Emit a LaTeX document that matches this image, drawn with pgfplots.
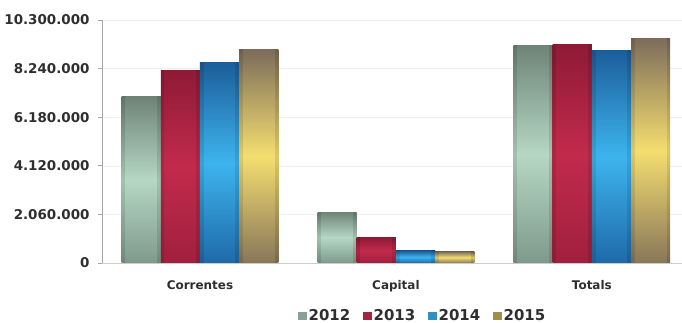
\documentclass[border=0pt]{standalone}
\usepackage{pgfplots}
\usepackage{pgfplotstable}
\pgfplotsset{compat=1.18}
\usepackage{fontspec}
\setmainfont{DejaVu Sans}
% 2012 green
\definecolor{gT}{HTML}{6E8477}\definecolor{gM}{HTML}{B5D7C3}\definecolor{gB}{HTML}{7F9A8B}
% 2013 red
\definecolor{rT}{HTML}{8E1A36}\definecolor{rM}{HTML}{C22A4C}\definecolor{rB}{HTML}{A0203E}
% 2014 blue
\definecolor{bT}{HTML}{1C5E9A}\definecolor{bM}{HTML}{3DB4EE}\definecolor{bB}{HTML}{1E6AA8}
% 2015 gold
\definecolor{yT}{HTML}{7C6C5A}\definecolor{yM}{HTML}{F4DE70}\definecolor{yB}{HTML}{887658}

\pgfplotstableread{
x y
0 7.04
1 2.16
2 9.21
}\tA
\pgfplotstableread{
x y
0 8.18
1 1.07
2 9.25
}\tB
\pgfplotstableread{
x y
0 8.49
1 0.51
2 8.99
}\tC
\pgfplotstableread{
x y
0 9.06
1 0.48
2 9.53
}\tD

\pgfplotsset{
  outerbar/.style n args={3}{top color=#1!88!black, bottom color=#3!88!black, middle color=#2!90!black},
  innerbar/.style n args={3}{top color=#1, bottom color=#3, middle color=#2},
  sq/.style={legend image code/.code={\fill[#1] (0bp,-3.5bp) rectangle (7.5bp,4bp);}},
}
% one series: table, bar shift, top, middle, bottom colour
\newcommand\series[5]{%
\addplot[forget plot, draw=none, bar shift=#2, bar width=0.2, outerbar={#3}{#4}{#5}, restrict x to domain=-0.1:0.1] table[x=x,y=y]{#1};
\addplot[forget plot, draw=none, bar shift=#2, bar width=0.16, innerbar={#3}{#4}{#5}, restrict x to domain=-0.1:0.1] table[x=x,y=y]{#1};
\addplot[forget plot, draw=none, bar shift=#2, bar width=0.2, outerbar={#3}{#4}{#5}, restrict x to domain=0.9:1.1] table[x=x,y=y]{#1};
\addplot[forget plot, draw=none, bar shift=#2, bar width=0.16, innerbar={#3}{#4}{#5}, restrict x to domain=0.9:1.1] table[x=x,y=y]{#1};
\addplot[forget plot, draw=none, bar shift=#2, bar width=0.2, outerbar={#3}{#4}{#5}, restrict x to domain=1.9:2.1] table[x=x,y=y]{#1};
\addplot[forget plot, draw=none, bar shift=#2, bar width=0.16, innerbar={#3}{#4}{#5}, restrict x to domain=1.9:2.1] table[x=x,y=y]{#1};
}

\begin{document}
\begin{tikzpicture}
\useasboundingbox (0,0) rectangle (682bp,323bp);
\begin{axis}[
  at={(102bp,60bp)}, anchor=south west,
  scale only axis, width=580bp, height=243bp,
  xmin=-0.5, xmax=2.46, ymin=0, ymax=10.3,
  axis x line*=bottom, axis y line*=left,
  axis line style={gray!70, line width=0.8pt},
  x axis line style={gray!40},
  xtick={0,1,2}, xticklabels={Correntes,Capital,Totals},
  xtick style={draw=none},
  ytick={0,2.06,4.12,6.18,8.24,10.3},
  yticklabels={0,2.060.000,4.120.000,6.180.000,8.240.000,10.300.000},
  tick align=outside, major tick length=4bp,
  ytick style={gray!70, line width=0.8pt},
  ymajorgrids, grid style={gray!13},
  yticklabel style={font=\fontsize{13.5}{13.5}\selectfont\bfseries, text=black!82, xshift=-5bp},
  xticklabel style={font=\fontsize{12}{12}\selectfont\bfseries, text=black!82, yshift=-10bp},
  legend style={at={(0.553,-0.218)}, anchor=center, draw=none, legend columns=4,
    font=\fontsize{15}{15}\selectfont\bfseries, text=black!82,
    /tikz/every odd column/.append style={column sep=0.5bp},
    /tikz/every even column/.append style={column sep=11bp}},
  ybar, bar width=0.2,
]
\series{\tA}{-0.3}{gT}{gM}{gB}
\series{\tB}{-0.1}{rT}{rM}{rB}
\series{\tC}{0.1}{bT}{bM}{bB}
\series{\tD}{0.3}{yT}{yM}{yB}
\addlegendimage{sq=gM!75!black}
\addlegendentry{2012}
\addlegendimage{sq=rM!85!black}
\addlegendentry{2013}
\addlegendimage{sq=bM!80!black}
\addlegendentry{2014}
\addlegendimage{sq=yM!65!black}
\addlegendentry{2015}
\end{axis}
\end{tikzpicture}
\end{document}
